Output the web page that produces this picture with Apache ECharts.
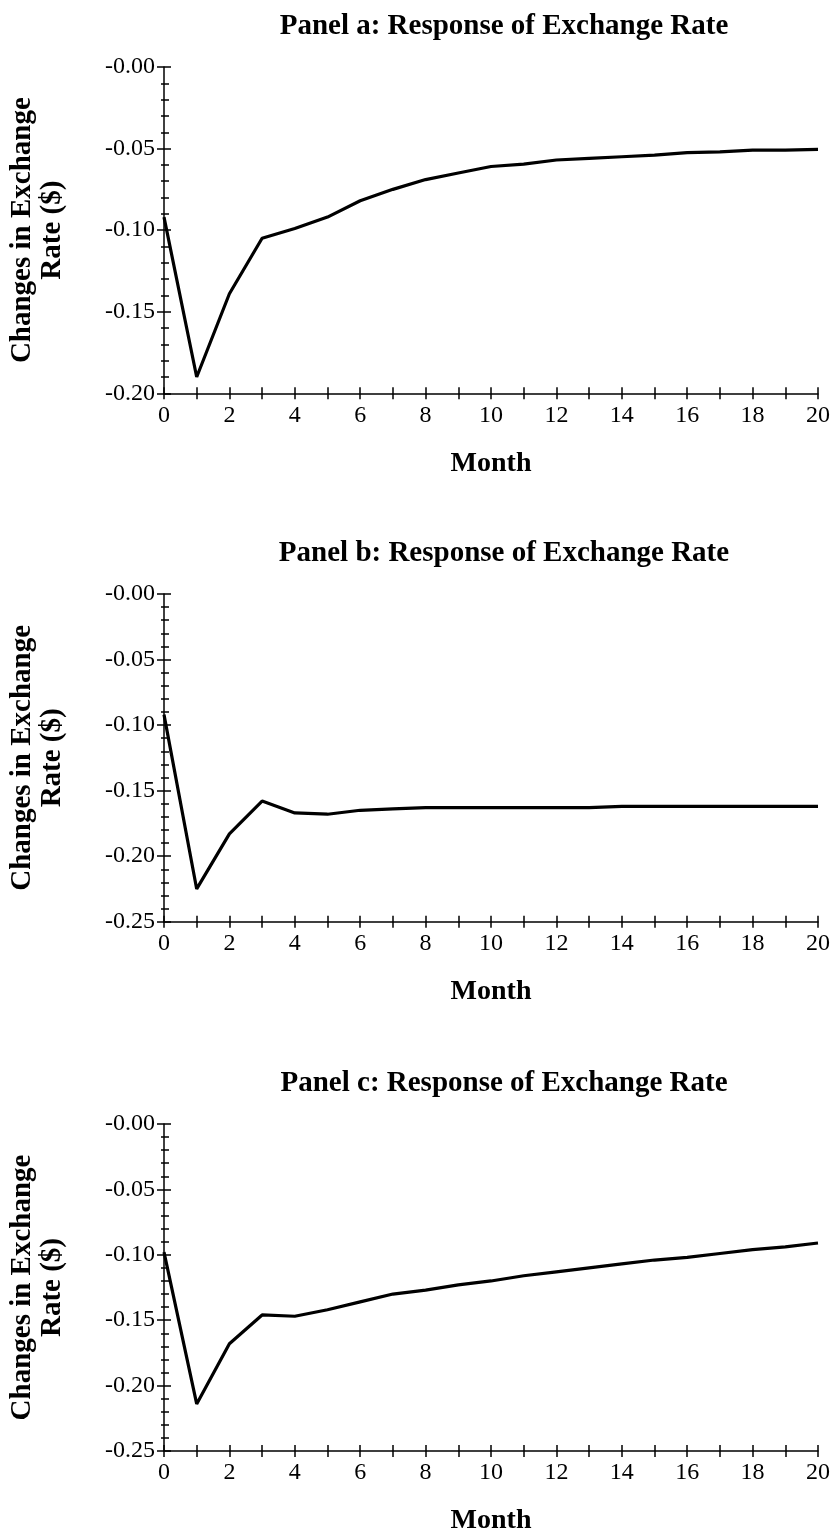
<!DOCTYPE html>
<html>
<head>
<meta charset="utf-8">
<script src="https://cdn.jsdelivr.net/npm/echarts@6/dist/echarts.min.js"></script>
<style>
html,body{margin:0;padding:0;background:#fff;}
#chart{width:833px;height:1536px;}
</style>
</head>
<body>
<div id="chart"></div>
<script>
// ---- data ----
var months = [0,1,2,3,4,5,6,7,8,9,10,11,12,13,14,15,16,17,18,19,20];
var panelTitles = ['Panel a: Response of Exchange Rate','Panel b: Response of Exchange Rate','Panel c: Response of Exchange Rate'];
var panelA = [-0.092,-0.190,-0.139,-0.105,-0.099,-0.092,-0.082,-0.075,-0.069,-0.065,-0.061,-0.0595,-0.057,-0.056,-0.055,-0.054,-0.0525,-0.052,-0.051,-0.051,-0.0505];
var panelB = [-0.092,-0.225,-0.183,-0.158,-0.167,-0.168,-0.165,-0.164,-0.163,-0.163,-0.163,-0.163,-0.163,-0.163,-0.162,-0.162,-0.162,-0.162,-0.162,-0.162,-0.162];
var panelC = [-0.098,-0.214,-0.168,-0.146,-0.147,-0.142,-0.136,-0.130,-0.127,-0.123,-0.120,-0.116,-0.113,-0.110,-0.107,-0.104,-0.102,-0.099,-0.096,-0.094,-0.091];
var yMins = [-0.20,-0.25,-0.25];
var yName = 'Changes in Exchange\nRate ($)';
var xName = 'Month';

// ---- layout ----
var grids = [
  {left:162.7, top:67, width:656.6, height:326.3},
  {left:162.7, top:594, width:656.6, height:327.7},
  {left:162.7, top:1124, width:656.6, height:327}
];
var FONT = '"Liberation Serif","Times New Roman",serif';
var seriesData = [panelA, panelB, panelC];

var option = {animation:false, backgroundColor:'#fff', title:[], grid:[], xAxis:[], yAxis:[], series:[]};

grids.forEach(function(g, i){
  option.grid.push({left:g.left, top:g.top, width:g.width, height:g.height, containLabel:false});
  option.title.push({
    text: panelTitles[i], left: g.left + g.width/2 + 8, top: g.top - 60, textAlign:'center',
    textStyle:{fontFamily:FONT, fontWeight:'bold', fontSize:29, color:'#000'}
  });
  var xa = 2*i, ya = 2*i;
  // outer x axis (labels + outward ticks)
  option.xAxis.push({
    type:'value', gridIndex:i, position:'bottom', min:0, max:20, interval:1,
    name: xName, nameLocation:'middle', nameGap:56,
    nameTextStyle:{fontFamily:FONT, fontWeight:'bold', fontSize:28, color:'#000'},
    axisLine:{show:true, onZero:false, lineStyle:{color:'#000', width:1.5}},
    axisTick:{show:true, inside:false, length:6, lineStyle:{color:'#000', width:1.5}},
    axisLabel:{show:true, margin:10, color:'#000', fontFamily:FONT, fontSize:24,
      formatter:function(v){ return (Math.round(v) % 2 === 0) ? String(Math.round(v)) : ''; }},
    splitLine:{show:false}
  });
  // inner x axis (inward ticks only)
  option.xAxis.push({
    type:'value', gridIndex:i, position:'bottom', min:0, max:20, interval:1,
    axisLine:{show:false, onZero:false},
    axisTick:{show:true, inside:true, length:6, lineStyle:{color:'#000', width:1.5}},
    axisLabel:{show:false}, splitLine:{show:false}
  });
  option.yAxis.push({
    type:'value', gridIndex:i, position:'left', min:yMins[i], max:0, interval:0.05,
    name: yName, nameLocation:'middle', nameGap:96, nameRotate:90,
    nameTextStyle:{fontFamily:FONT, fontWeight:'bold', fontSize:29, color:'#000', lineHeight:30, align:'center'},
    axisLine:{show:true, onZero:false, lineStyle:{color:'#000', width:1.5}},
    axisTick:{show:true, inside:false, length:7, lineStyle:{color:'#000', width:1.5}},
    minorTick:{show:true, splitNumber:5, length:3, lineStyle:{color:'#000', width:1.5}},
    axisLabel:{show:true, margin:9, color:'#000', fontFamily:FONT, fontSize:24,
      formatter:function(v){ return '-' + Math.abs(v).toFixed(2); }},
    splitLine:{show:false}, minorSplitLine:{show:false}
  });
  option.yAxis.push({
    type:'value', gridIndex:i, position:'left', min:yMins[i], max:0, interval:0.05,
    axisLine:{show:false, onZero:false},
    axisTick:{show:true, inside:true, length:7, lineStyle:{color:'#000', width:1.5}},
    minorTick:{show:true, splitNumber:5, length:5, lineStyle:{color:'#000', width:1.5}},
    axisLabel:{show:false}, splitLine:{show:false}, minorSplitLine:{show:false}
  });
  option.series.push({
    type:'line', xAxisIndex:xa, yAxisIndex:ya, showSymbol:false, smooth:false,
    lineStyle:{color:'#000', width:3.2}, itemStyle:{color:'#000'},
    data: months.map(function(m, k){ return [m, seriesData[i][k]]; })
  });
});

var chart = echarts.init(document.getElementById('chart'), null, {renderer:'canvas'});
chart.setOption(option);
</script>
</body>
</html>
